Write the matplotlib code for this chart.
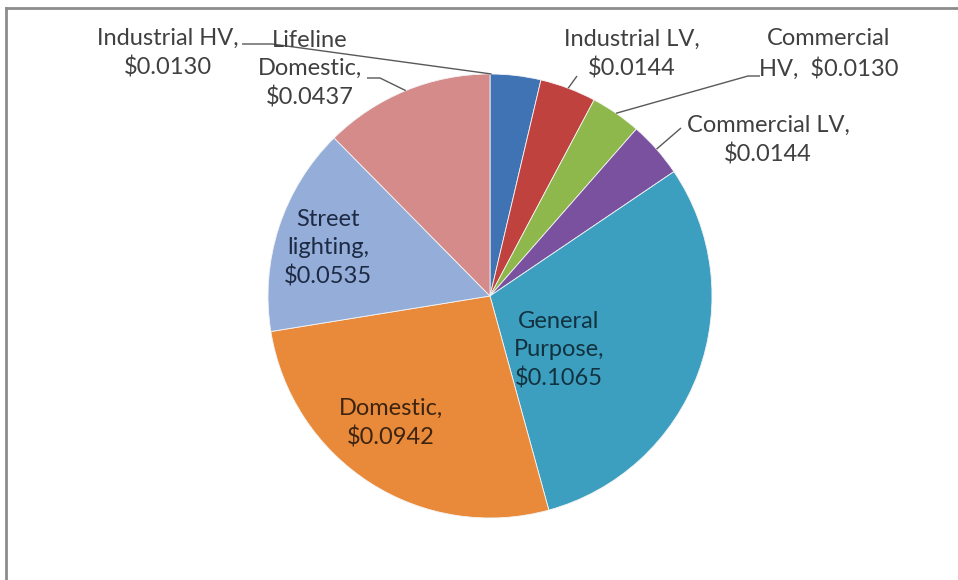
"""Pie chart of tariff rates by customer class."""

import numpy as np
import matplotlib

matplotlib.use("Agg")
import matplotlib.pyplot as plt  # noqa: E402

categories = [
    "Industrial HV",
    "Industrial LV",
    "Commercial HV",
    "Commercial LV",
    "General Purpose",
    "Domestic",
    "Street lighting",
    "Lifeline Domestic",
]
rates = [0.0130, 0.0144, 0.0130, 0.0144, 0.1065, 0.0942, 0.0535, 0.0437]
label_texts = [
    "Industrial HV,\n$0.0130",
    "Industrial LV,\n$0.0144",
    "Commercial\nHV,  $0.0130",
    "Commercial LV,\n$0.0144",
    "General\nPurpose,\n$0.1065",
    "Domestic,\n$0.0942",
    "Street\nlighting,\n$0.0535",
    "Lifeline\nDomestic,\n$0.0437",
]

colors = ["#3f73b4", "#c0423e", "#8fb84c", "#7a519f", "#3c9fc0", "#e98a3b", "#94aed9", "#d58b8a"]

W, H = 958, 580
CX, CY, R = 490, H - 296, 222

# label layout in pixel coords (top-left origin): centre, text colour
label_pos = [(168, 53), (632, 54), (829, 54), (768, 140), (559, 350), (391, 423), (328, 248), (310, 69)]
text_colors = ["#404040"] * 4 + ["#13323f", "#3d2410", "#1e2a44", "#404040"]
# leader lines: start point, elbow point, fraction along wedge for the end
leaders = {
    0: ((242, 44), (272, 44), 0.97),
    1: ((577, 76), (577, 76), 0.5),
    2: ((760, 76), (748, 76), 0.5),
    3: ((681, 128), (681, 128), 0.5),
    7: ((367, 78), (380, 78), 0.5),
}

plt.rcParams["font.family"] = ["Lato", "DejaVu Sans"]

fig = plt.figure(figsize=(W / 100, H / 100), dpi=100)
ax = fig.add_axes([0, 0, 1, 1])
wedges, _ = ax.pie(
    rates,
    colors=colors,
    startangle=90,
    counterclock=False,
    center=(CX, CY),
    radius=R,
    wedgeprops={"edgecolor": "#f4f4f4", "linewidth": 0.6},
)
ax.set_xlim(0, W)
ax.set_ylim(0, H)
ax.set_aspect("equal")
ax.axis("off")

for i, text in enumerate(label_texts):
    x, y = label_pos[i]
    ax.text(x, H - y, text, ha="center", va="center", fontsize=17,
            color=text_colors[i], linespacing=1.42, multialignment="center")

for i, (start, elbow, frac) in leaders.items():
    w = wedges[i]
    ang = np.deg2rad(w.theta1 + frac * (w.theta2 - w.theta1))
    ex, ey = CX + R * np.cos(ang), CY + R * np.sin(ang)
    xs = [start[0], elbow[0], ex]
    ys = [H - start[1], H - elbow[1], ey]
    ax.plot(xs, ys, color="#595959", linewidth=1.0, solid_capstyle="butt")

# chart area border (top and left edges visible)
ax.plot([6, W], [H - 8, H - 8], color="#8c8c8c", linewidth=2)
ax.plot([6, 6], [0, H - 8], color="#8c8c8c", linewidth=2)

fig.savefig("out.png", dpi=100)
